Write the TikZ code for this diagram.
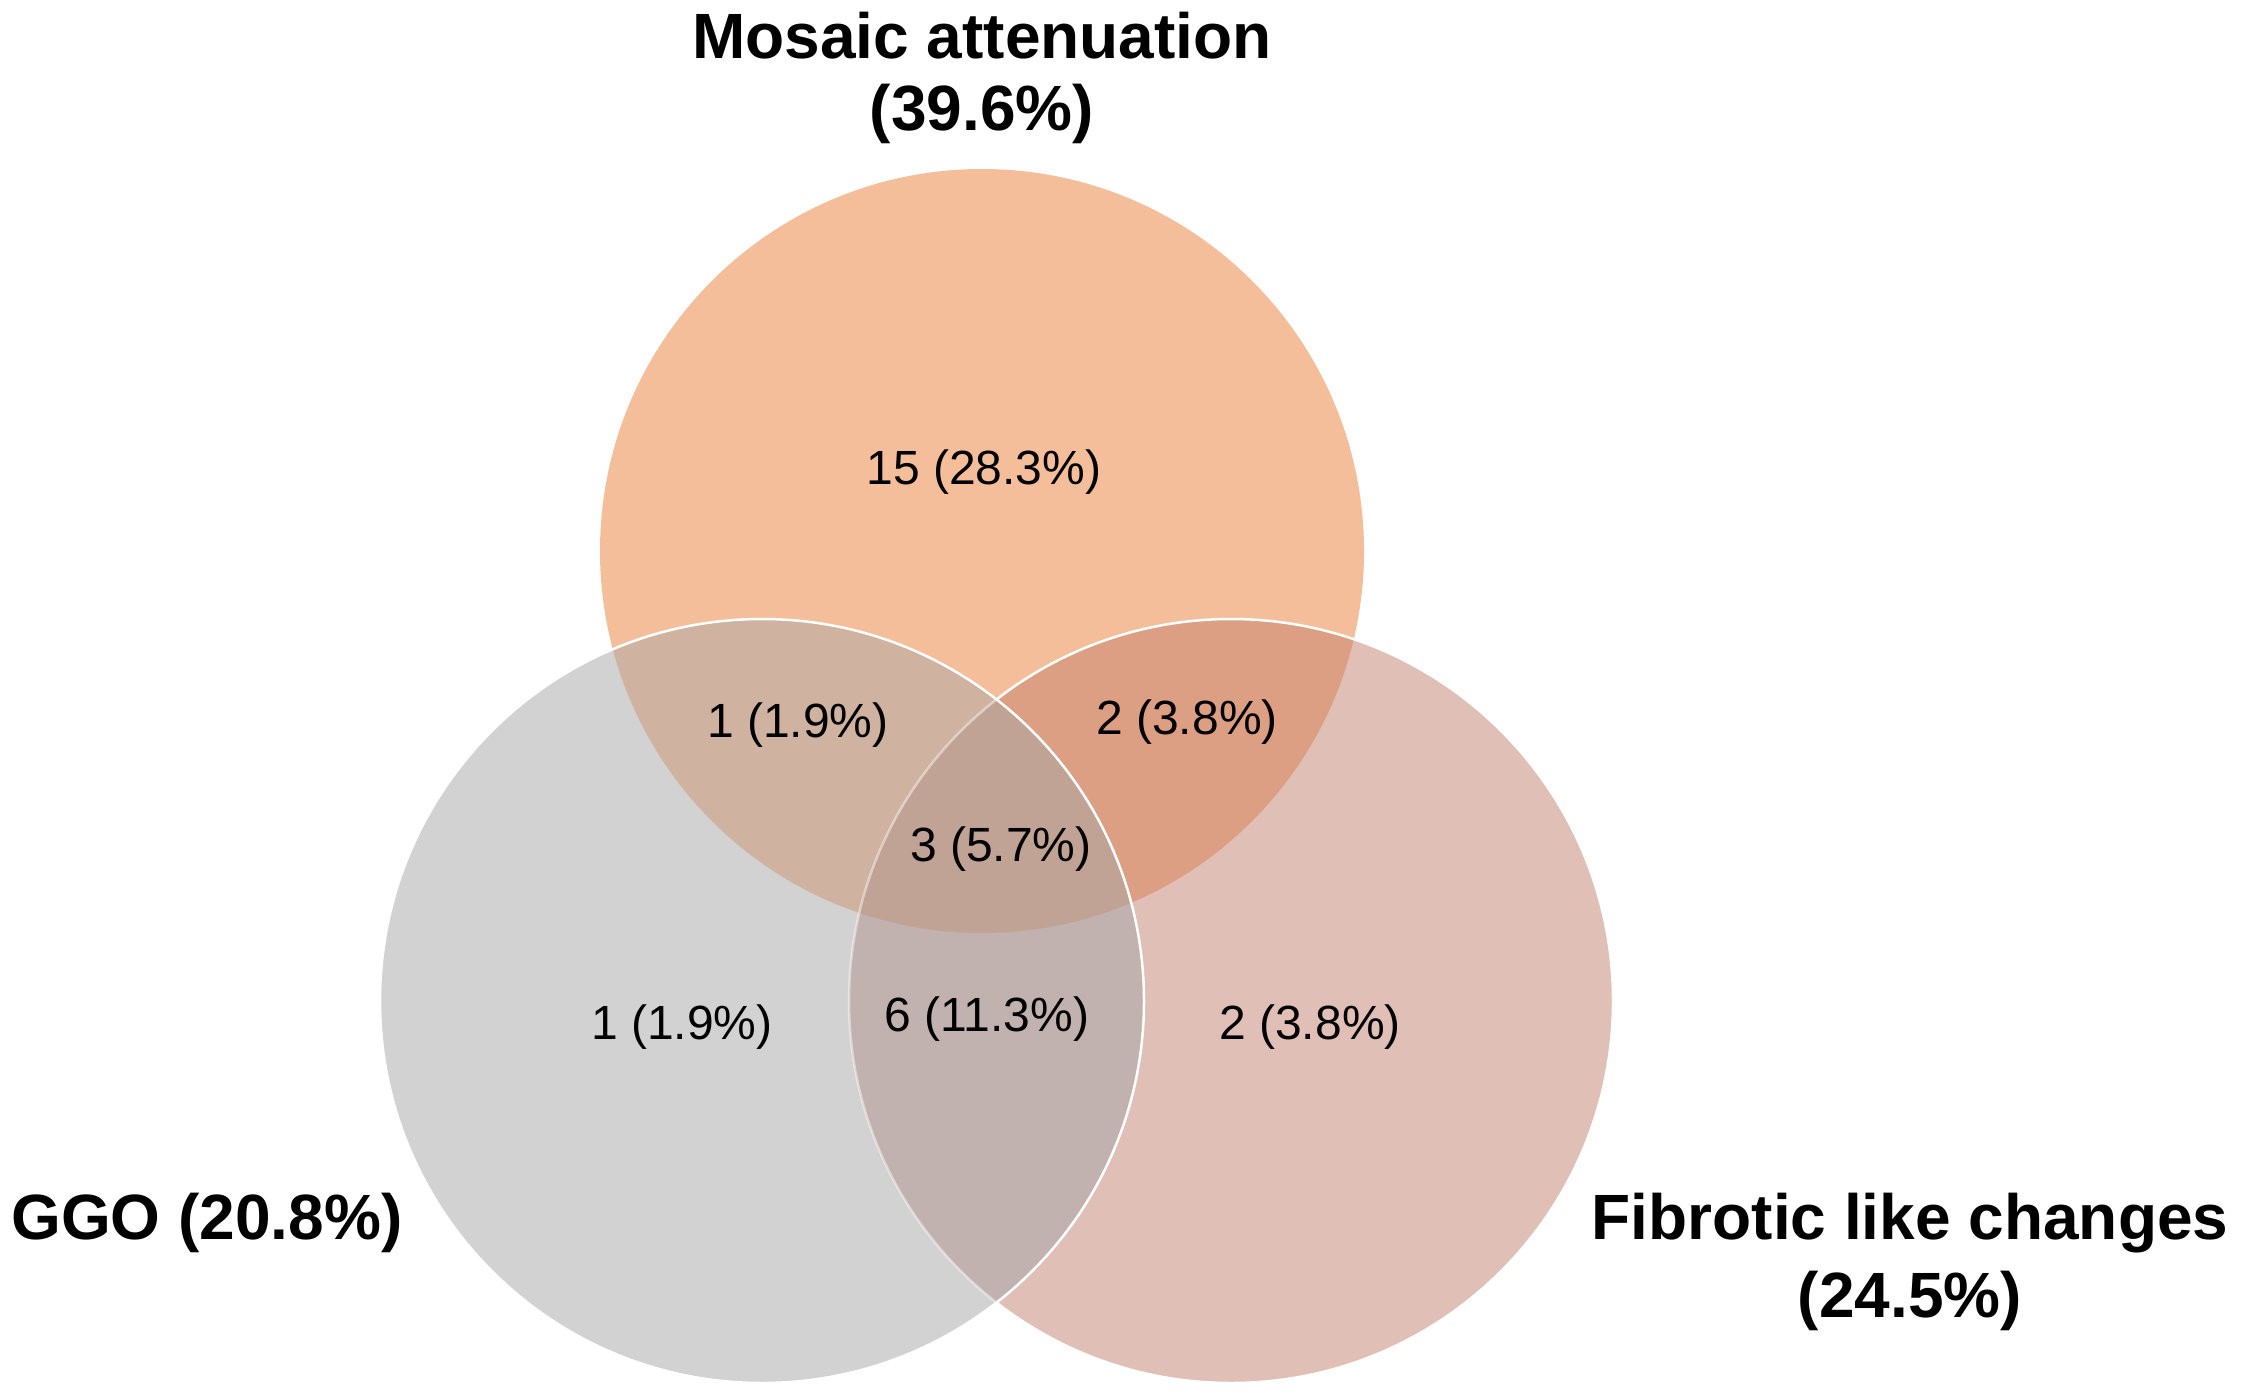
\documentclass[tikz,border=0pt]{standalone}
\usepackage{fontspec}
\setmainfont{Liberation Sans}
\definecolor{cO}{HTML}{F5BE9A}
\definecolor{cG}{HTML}{D2D2D2}
\definecolor{cF}{HTML}{E0BFB6}
\definecolor{cOG}{HTML}{CFB2A0}
\definecolor{cOF}{HTML}{DC9F84}
\definecolor{cGF}{HTML}{C1B2AF}
\definecolor{cOGF}{HTML}{C0A395}
\tikzset{
  title/.style={font=\fontsize{64}{76}\selectfont\bfseries, align=center, text=black, inner sep=0pt},
  count/.style={font=\fontsize{48}{56}\selectfont, text=black, inner sep=0pt},
}
\begin{document}
\begin{tikzpicture}[x=1pt,y=-1pt]
\useasboundingbox (0,0) rectangle (2242,1397);
\fill[white] (0,0) rectangle (2242,1397);
\def\R{382}
\coordinate (O) at (982,551);
\coordinate (G) at (762,1001);
\coordinate (F) at (1231,1001);
% single circles
\fill[cO] (O) circle[radius=\R];
\fill[cF] (F) circle[radius=\R];
\fill[cG] (G) circle[radius=\R];
% pairwise
\begin{scope}
  \clip (O) circle[radius=\R];
  \fill[cOG] (G) circle[radius=\R];
  \fill[cOF] (F) circle[radius=\R];
\end{scope}
\begin{scope}
  \clip (G) circle[radius=\R];
  \fill[cGF] (F) circle[radius=\R];
\end{scope}
\begin{scope}
  \clip (O) circle[radius=\R];
  \clip (G) circle[radius=\R];
  \fill[cOGF] (F) circle[radius=\R];
\end{scope}
% white outlines
\begin{scope}[even odd rule]
  \clip (-10,-10) rectangle (2252,1407) (G) circle[radius=\R];
  \draw[white, line width=2.5] (F) circle[radius=\R];
\end{scope}
\begin{scope}
  \clip (G) circle[radius=\R];
  \draw[white, opacity=0.45, line width=2.5] (F) circle[radius=\R];
\end{scope}
\draw[white, line width=2.5] (G) circle[radius=\R];
% titles
\node[title] (tO) at (982,36) {Mosaic attenuation};
\node[title] (tO2) at (982,114) {(39.6\%)};
\node[title] (tG) at (207,1223) {GGO (20.8\%)};
\node[title] (tF) at (1910,1223) {Fibrotic like changes};
\node[title] (tF2) at (1910,1301) {(24.5\%)};
% counts
\node[count] (nO) at (984,472) {15 (28.3\%)};
\node[count] (nOG) at (798,725) {1 (1.9\%)};
\node[count] (nOF) at (1187,722) {2 (3.8\%)};
\node[count] (nOGF) at (1001,849) {3 (5.7\%)};
\node[count] (nG) at (682,1027) {1 (1.9\%)};
\node[count] (nGF) at (987,1019) {6 (11.3\%)};
\node[count] (nF) at (1310,1027) {2 (3.8\%)};
\end{tikzpicture}
\end{document}
